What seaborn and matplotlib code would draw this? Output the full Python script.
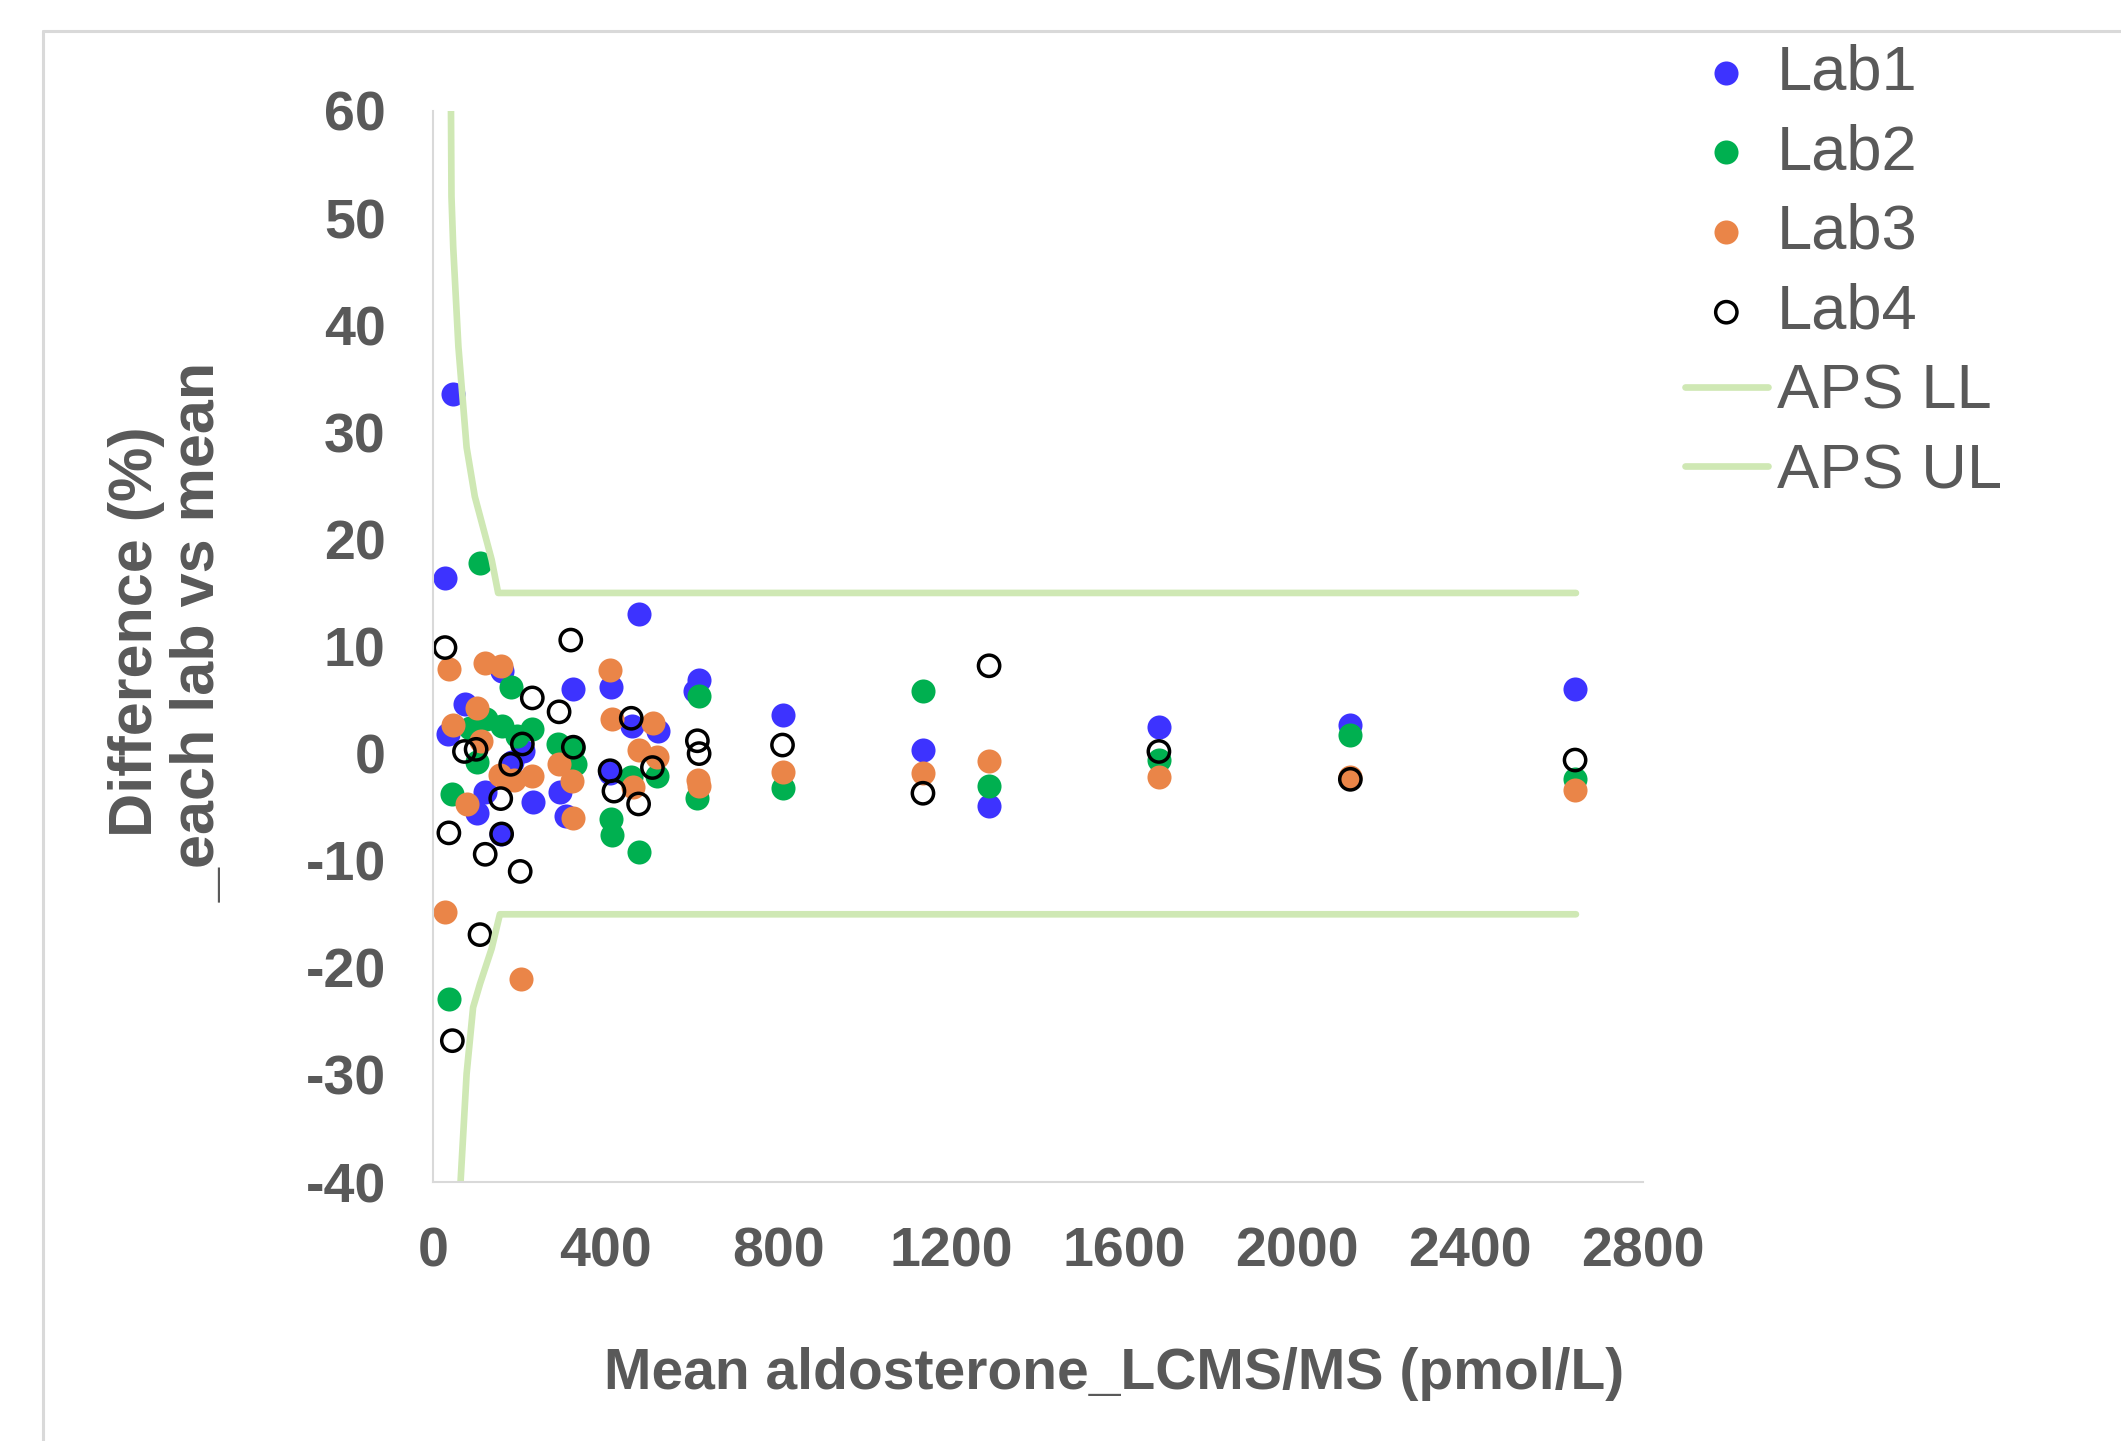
import matplotlib
matplotlib.use('Agg')
import matplotlib.pyplot as plt
from matplotlib.lines import Line2D
import seaborn as sns

# values
lab1_x = [28, 35, 46, 74, 101, 120, 157, 159, 182, 209, 231, 294, 309, 325, 410, 413, 460, 477, 520, 606, 616, 809, 1134, 1287, 1680, 2123, 2643]
lab1_y = [16.4, 1.8, 33.6, 4.6, -5.5, -3.6, -7.5, 7.7, -0.8, 0.2, -4.5, -3.6, -5.8, 6.0, -1.8, 6.2, 2.6, 13.0, 2.1, 5.8, 6.9, 3.6, 0.3, -4.9, 2.5, 2.7, 6.0]

lab2_x = [38, 44, 86, 101, 109, 124, 159, 180, 194, 230, 289, 325, 329, 412, 415, 458, 477, 518, 612, 616, 809, 1134, 1287, 1680, 2123, 2643]
lab2_y = [-22.9, -3.8, 2.4, -0.8, 17.8, 3.2, 2.6, 6.2, 1.6, 2.3, 0.9, 0.5, -1.0, -6.1, -7.6, -2.2, -9.2, -2.1, -4.1, 5.4, -3.2, 5.8, -3.0, -0.6, 1.7, -2.4]

lab3_x = [28, 37, 47, 78, 101, 111, 120, 155, 157, 188, 203, 230, 292, 321, 325, 410, 415, 462, 477, 510, 518, 614, 616, 809, 1134, 1287, 1680, 2123, 2643]
lab3_y = [-14.8, 7.9, 2.7, -4.7, 4.3, 1.2, 8.5, -2.0, 8.2, -2.5, -21.0, -2.1, -1.0, -2.6, -6.0, 7.8, 3.2, -3.1, 0.3, 2.9, -0.3, -2.5, -3.0, -1.7, -1.8, -0.7, -2.2, -2.2, -3.4]

lab4_x = [28, 37, 45, 73, 100, 109, 121, 157, 159, 180, 202, 207, 230, 292, 319, 325, 410, 419, 459, 476, 508, 612, 616, 809, 1134, 1287, 1680, 2123, 2643]
lab4_y = [9.9, -7.4, -26.8, 0.2, 0.4, -16.9, -9.4, -4.2, -7.5, -1.0, -11.0, 0.9, 5.2, 3.9, 10.6, 0.6, -1.6, -3.5, 3.3, -4.7, -1.3, 1.2, 0.0, 0.8, -3.7, 8.2, 0.2, -2.4, -0.6]

# APS limits (upper / lower)
ul_x = [41, 43, 47, 59, 78, 97, 136, 151, 2645]
ul_y = [66, 52, 47.3, 38, 28.6, 24, 18.1, 15, 15]
ll_x = [60, 64, 78, 93, 109, 136, 155, 2645]
ll_y = [-47, -40, -29.9, -23.7, -21.5, -18.2, -15, -15]

x_ticks = [0, 400, 800, 1200, 1600, 2000, 2400, 2800]
y_ticks = [-40, -30, -20, -10, 0, 10, 20, 30, 40, 50, 60]

grey = '#595959'
aps_green = '#CFE8B4'

sns.set_style('white')
plt.rcParams['font.family'] = ['Liberation Sans', 'DejaVu Sans']
plt.rcParams['axes.unicode_minus'] = False

fig = plt.figure(figsize=(21.21, 14.41), dpi=100)
ax = fig.add_axes([0.2041, 0.1797, 0.5705, 0.7433])

# limit lines first so the dots sit on top
sns.lineplot(x=ll_x, y=ll_y, estimator=None, sort=False, color=aps_green, lw=4.8, label='APS LL', ax=ax)
sns.lineplot(x=ul_x, y=ul_y, estimator=None, sort=False, color=aps_green, lw=4.8, label='APS UL', ax=ax)

sns.scatterplot(x=lab1_x, y=lab1_y, color='#3D33FF', s=300, linewidth=0, label='Lab1', ax=ax)
sns.scatterplot(x=lab2_x, y=lab2_y, color='#00B050', s=300, linewidth=0, label='Lab2', ax=ax)
sns.scatterplot(x=lab3_x, y=lab3_y, color='#EA8548', s=300, linewidth=0, label='Lab3', ax=ax)
sns.scatterplot(x=lab4_x, y=lab4_y, color='black', facecolor='none', edgecolor='black',
                s=235, linewidth=2.5, label='Lab4', ax=ax)

ax.set_xlim(0, 2800)
ax.set_ylim(-40, 60)
ax.set_xticks(x_ticks)
ax.set_yticks(y_ticks)
ax.tick_params(axis='both', length=0, labelsize=40, labelcolor=grey)
ax.tick_params(axis='x', pad=32)
ax.tick_params(axis='y', pad=34)
for lab in ax.get_xticklabels() + ax.get_yticklabels():
    lab.set_fontweight('bold')

for side in ['top', 'right']:
    ax.spines[side].set_visible(False)
for side in ['left', 'bottom']:
    ax.spines[side].set_color('#D9D9D9')
    ax.spines[side].set_linewidth(1.5)

ax.set_xlabel('Mean aldosterone_LCMS/MS (pmol/L)', fontsize=41, fontweight='bold', color=grey)
ax.xaxis.set_label_coords(0.563, -0.154)
ax.set_ylabel('Difference (%)\n_each lab vs mean', fontsize=44, fontweight='bold', color=grey,
              linespacing=1.12)
ax.yaxis.set_label_coords(-0.170, 0.5135)

# legend in the order of the reference
handles, labels = ax.get_legend_handles_labels()
order = ['Lab1', 'Lab2', 'Lab3', 'Lab4', 'APS LL', 'APS UL']
hmap = dict(zip(labels, handles))
leg = ax.legend([hmap[k] for k in order], order, loc='upper left',
                bbox_to_anchor=(0.7944, 0.9700), bbox_transform=fig.transFigure,
                frameon=False, fontsize=45.5, handlelength=1.31, handletextpad=0.14,
                labelspacing=0.33, borderpad=0, borderaxespad=0)
for t in leg.get_texts():
    t.set_color(grey)

# chart-area border (left and top edges visible in the reference)
bx = 43 / 2121
by = 1 - 31 / 1441
fig.add_artist(Line2D([bx, bx], [0, by], transform=fig.transFigure, color='#D9D9D9', lw=2.2))
fig.add_artist(Line2D([bx, 1], [by, by], transform=fig.transFigure, color='#D9D9D9', lw=2.2))

fig.savefig('out.png', dpi=100)
